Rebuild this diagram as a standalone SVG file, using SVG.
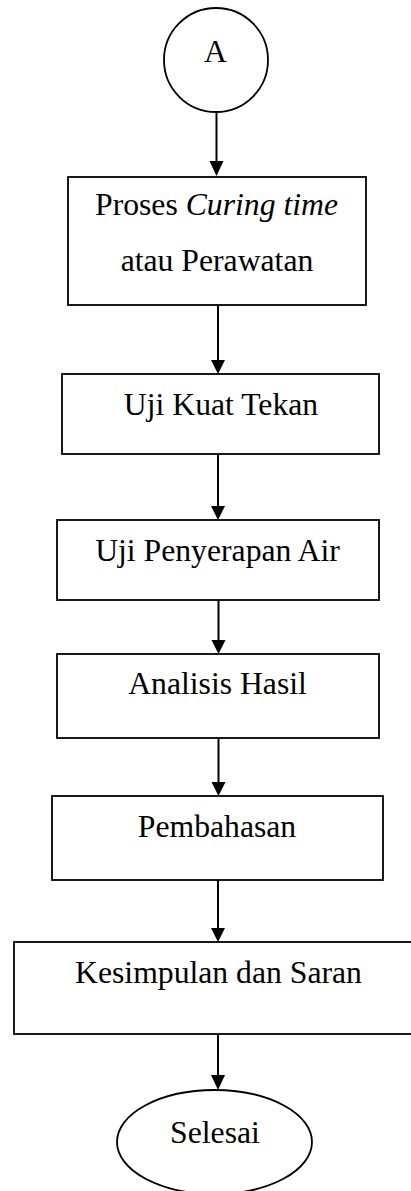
<svg xmlns="http://www.w3.org/2000/svg" width="411" height="1191" viewBox="0 0 411 1191">
<style>
.box{fill:#fff;stroke:#000;stroke-width:1.8}
.t{font-family:"Liberation Serif","Times New Roman",serif;font-size:31.7px;fill:#000;text-anchor:middle}
.c{stroke:#000;stroke-width:2;fill:none}
.ah{fill:#000}
</style>
<rect width="411" height="1191" fill="#fff"/>
<g id="connectors">
<line class="c" x1="216.5" y1="112" x2="216.5" y2="163"/>
<polygon class="ah" points="209.5,161 223.5,161 216.5,176"/>
<line class="c" x1="218" y1="305" x2="218" y2="362"/>
<polygon class="ah" points="211,360 225,360 218,374"/>
<line class="c" x1="218" y1="454" x2="218" y2="508"/>
<polygon class="ah" points="211,506 225,506 218,520"/>
<line class="c" x1="218.5" y1="600" x2="218.5" y2="642"/>
<polygon class="ah" points="211.5,640 225.5,640 218.5,654"/>
<line class="c" x1="218.5" y1="738" x2="218.5" y2="784"/>
<polygon class="ah" points="211.5,782 225.5,782 218.5,796"/>
<line class="c" x1="218" y1="880" x2="218" y2="930"/>
<polygon class="ah" points="211,928 225,928 218,942"/>
<line class="c" x1="218" y1="1034" x2="218" y2="1077"/>
<polygon class="ah" points="211,1075 225,1075 218,1090"/>
</g>
<g id="node-a">
<circle class="box" cx="216" cy="60" r="52"/>
<text class="t" x="215.5" y="62">A</text>
</g>
<g id="node-curing">
<rect class="box" x="68" y="177" width="298" height="128"/>
<text class="t" x="216.5" y="215">Proses <tspan font-style="italic">Curing time</tspan></text>
<text class="t" x="217" y="271">atau Perawatan</text>
</g>
<g id="node-kuat-tekan">
<rect class="box" x="62" y="374" width="317" height="80"/>
<text class="t" x="221" y="415">Uji Kuat Tekan</text>
</g>
<g id="node-penyerapan">
<rect class="box" x="57" y="520" width="322" height="80"/>
<text class="t" x="217.5" y="561">Uji Penyerapan Air</text>
</g>
<g id="node-analisis">
<rect class="box" x="57" y="654" width="322" height="84"/>
<text class="t" x="217.5" y="694">Analisis Hasil</text>
</g>
<g id="node-pembahasan">
<rect class="box" x="52" y="796" width="331" height="84"/>
<text class="t" x="217" y="837">Pembahasan</text>
</g>
<g id="node-kesimpulan">
<rect class="box" x="14" y="942" width="400" height="92"/>
<text class="t" x="218.5" y="983">Kesimpulan dan Saran</text>
</g>
<g id="node-selesai">
<ellipse class="box" cx="214.5" cy="1142" rx="97.5" ry="52"/>
<text class="t" x="215" y="1143">Selesai</text>
</g>
</svg>
